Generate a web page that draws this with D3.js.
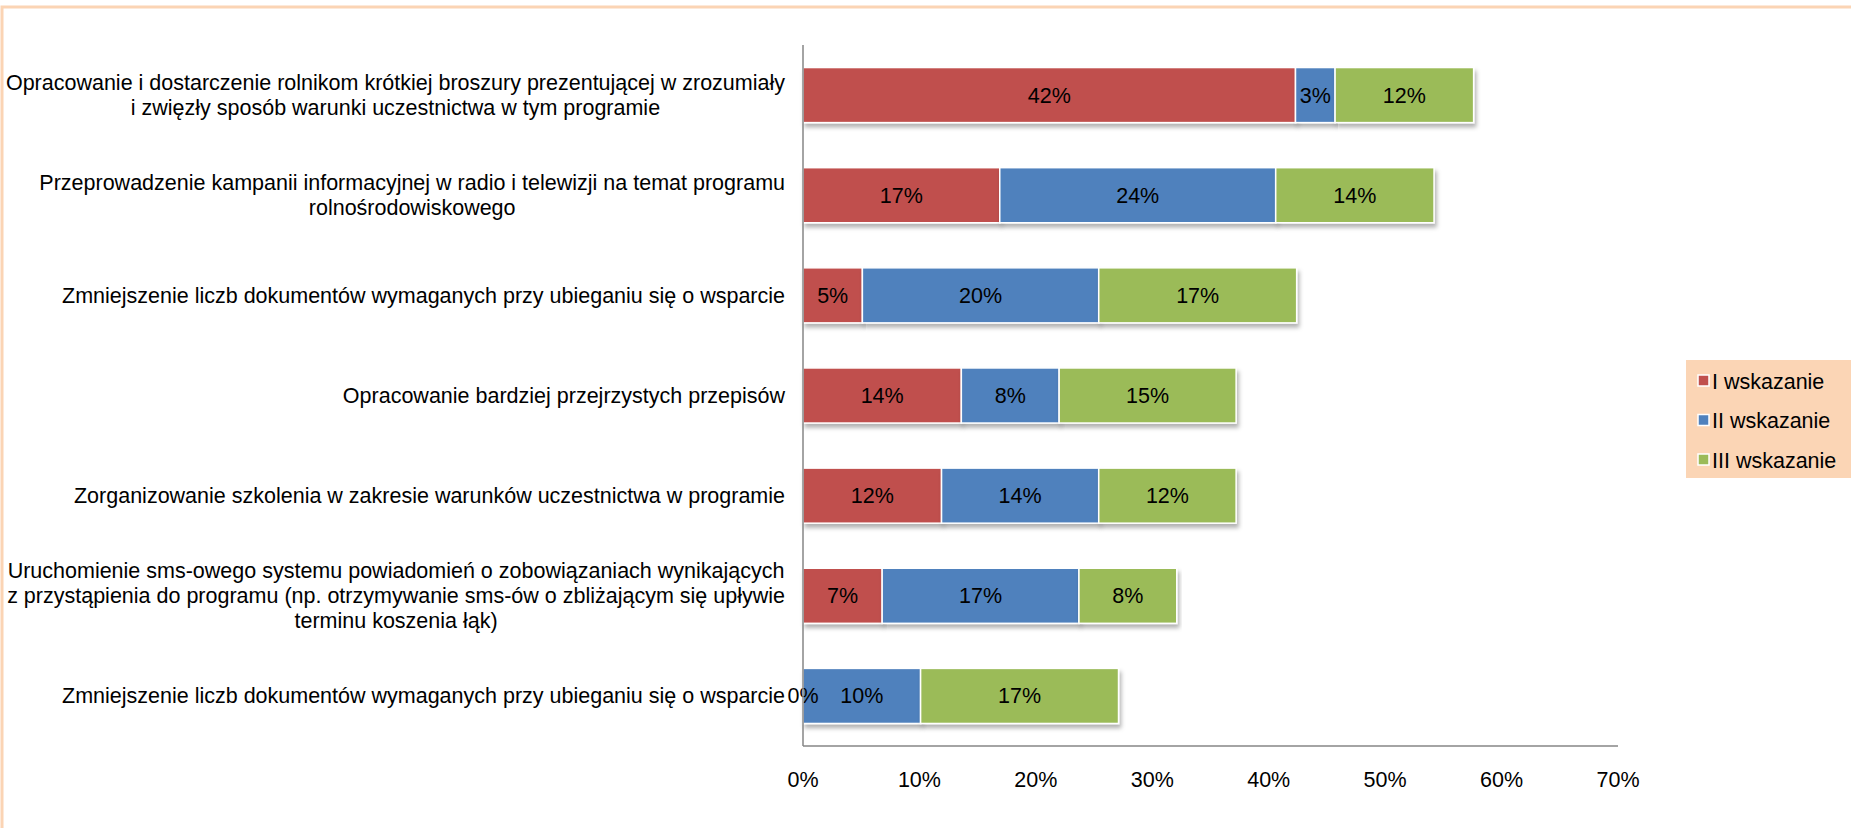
<!DOCTYPE html>
<html>
<head>
<meta charset="utf-8">
<script src="https://cdn.jsdelivr.net/npm/d3@7"></script>
<style>
  body { margin: 0; background: #fff; }
  svg text { font-family: "Liberation Sans", Arial, sans-serif; fill: #000; }
</style>
</head>
<body>
<svg id="chart"></svg>
<script>
var width = 1851;
var height = 828;

// categories, top to bottom (lines of each label)
var categories = [
  ['Opracowanie i dostarczenie rolnikom krótkiej broszury prezentującej w zrozumiały', 'i zwięzły sposób warunki uczestnictwa w tym programie'],
  ['Przeprowadzenie kampanii informacyjnej w radio i telewizji na temat programu', 'rolnośrodowiskowego'],
  ['Zmniejszenie liczb dokumentów wymaganych przy ubieganiu się o wsparcie'],
  ['Opracowanie bardziej przejrzystych przepisów'],
  ['Zorganizowanie szkolenia w zakresie warunków uczestnictwa w programie'],
  ['Uruchomienie sms-owego systemu powiadomień o zobowiązaniach wynikających', 'z przystąpienia do programu (np. otrzymywanie sms-ów o zbliżającym się upływie', 'terminu koszenia łąk)'],
  ['Zmniejszenie liczb dokumentów wymaganych przy ubieganiu się o wsparcie']
];
var seriesNames = ['I wskazanie', 'II wskazanie', 'III wskazanie'];
var seriesColors = ['#C0504D', '#4F81BD', '#9BBB59'];
var wskazanie1 = [42.3, 16.9, 5.1, 13.6, 11.9, 6.8, 0];
var wskazanie2 = [3.4, 23.7, 20.3, 8.4, 13.5, 16.9, 10.1];
var wskazanie3 = [11.9, 13.6, 17.0, 15.2, 11.8, 8.4, 17.0];
var xTicks = [0, 10, 20, 30, 40, 50, 60, 70];

var fontSize = '21.5px';

var svg = d3.select('#chart')
  .attr('width', width)
  .attr('height', height);

var defs = svg.append('defs');
var shadow = defs.append('filter')
  .attr('id', 'shadow')
  .attr('x', '-5%').attr('y', '-20%')
  .attr('width', '110%').attr('height', '150%');
shadow.append('feDropShadow')
  .attr('dx', 2).attr('dy', 4)
  .attr('stdDeviation', 2)
  .attr('flood-color', '#000')
  .attr('flood-opacity', 0.3);

// outer chart border
svg.append('rect')
  .attr('x', 2).attr('y', 7)
  .attr('width', width + 10).attr('height', height + 10)
  .attr('fill', 'none')
  .attr('stroke', '#FBD4B4')
  .attr('stroke-width', 3);

var plotLeft = 803, plotRight = 1618, plotTop = 45, plotBottom = 746;

var x = d3.scaleLinear().domain([0, 70]).range([plotLeft, plotRight]);
var y = d3.scaleBand()
  .domain(d3.range(categories.length))
  .range([plotTop, plotBottom])
  .paddingInner(0.45).paddingOuter(0.225);

var rows = categories.map(function(c, i) {
  return { i: i, v: [wskazanie1[i], wskazanie2[i], wskazanie3[i]] };
});
var stack = d3.stack().keys([0, 1, 2]).value(function(d, k) { return d.v[k]; });
var layers = stack(rows);

var barGroup = svg.append('g');
layers.forEach(function(layer, k) {
  var g = barGroup.append('g');
  g.selectAll('rect')
    .data(layer)
    .enter()
    .append('rect')
    .attr('x', function(d) { return x(d[0]); })
    .attr('y', function(d) { return y(d.data.i); })
    .attr('width', function(d) { return x(d[1]) - x(d[0]); })
    .attr('height', y.bandwidth())
    .attr('fill', seriesColors[k])
    .attr('stroke', '#fff')
    .attr('stroke-width', 1.5)
    .attr('filter', 'url(#shadow)');
});

// value labels
layers.forEach(function(layer, k) {
  svg.append('g').selectAll('text')
    .data(layer)
    .enter()
    .append('text')
    .attr('x', function(d) { return (x(d[0]) + x(d[1])) / 2; })
    .attr('y', function(d) { return y(d.data.i) + y.bandwidth() / 2; })
    .attr('dy', '0.35em')
    .attr('text-anchor', 'middle')
    .style('font-size', fontSize)
    .text(function(d) { return Math.round(d.data.v[k]) + '%'; });
});

// axes
svg.append('line')
  .attr('x1', plotLeft).attr('x2', plotLeft)
  .attr('y1', plotTop).attr('y2', plotBottom)
  .attr('stroke', '#868686').attr('stroke-width', 1.5);
svg.append('line')
  .attr('x1', plotLeft).attr('x2', plotRight)
  .attr('y1', plotBottom).attr('y2', plotBottom)
  .attr('stroke', '#868686').attr('stroke-width', 1.5);

svg.append('g').selectAll('text')
  .data(xTicks)
  .enter()
  .append('text')
  .attr('x', function(d) { return x(d); })
  .attr('y', 787)
  .attr('text-anchor', 'middle')
  .style('font-size', fontSize)
  .text(function(d) { return d + '%'; });

// category labels, right aligned block, lines centred within
var labelRight = 785;
var lineH = 25;
categories.forEach(function(lines, i) {
  var g = svg.append('g');
  var cy = y(i) + y.bandwidth() / 2;
  var texts = g.selectAll('text')
    .data(lines)
    .enter()
    .append('text')
    .attr('y', function(d, j) { return cy + (j - (lines.length - 1) / 2) * lineH; })
    .attr('dy', '0.35em')
    .attr('text-anchor', 'middle')
    .style('font-size', fontSize)
    .text(function(d) { return d; });
  var maxW = 0;
  texts.each(function() { maxW = Math.max(maxW, this.getComputedTextLength()); });
  texts.attr('x', labelRight - maxW / 2);
});

// legend
var legend = svg.append('g');
legend.append('rect')
  .attr('x', 1686).attr('y', 360)
  .attr('width', 170).attr('height', 118)
  .attr('fill', '#FBD5B5');
seriesNames.forEach(function(name, k) {
  var ly = 381 + k * 39.5;
  legend.append('rect')
    .attr('x', 1698).attr('y', ly - 6)
    .attr('width', 11).attr('height', 11)
    .attr('fill', seriesColors[k])
    .attr('stroke', '#fff').attr('stroke-width', 1.5);
  legend.append('text')
    .attr('x', 1712).attr('y', ly)
    .attr('dy', '0.35em')
    .style('font-size', fontSize)
    .text(name);
});
</script>
</body>
</html>
